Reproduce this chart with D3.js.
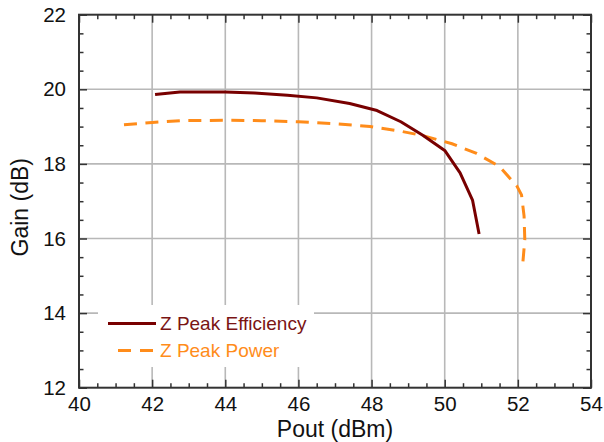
<!DOCTYPE html>
<html>
<head>
<meta charset="utf-8">
<script src="https://cdn.jsdelivr.net/npm/d3@7"></script>
<style>
  html, body { margin: 0; padding: 0; background: #fff; }
  svg { display: block; font-family: "Liberation Sans", Arial, sans-serif; }
</style>
</head>
<body>
<svg id="chart" width="604" height="442"></svg>
<script>
// ---- data ----
const xTickValues = [40, 42, 44, 46, 48, 50, 52, 54];
const yTickValues = [12, 14, 16, 18, 20, 22];
const xTitle = "Pout (dBm)";
const yTitle = "Gain (dB)";
const seriesNames = ["Z Peak Efficiency", "Z Peak Power"];

const effX = [42.08, 42.76, 44.0, 44.8, 45.7, 46.5, 47.4, 48.15, 48.8, 49.4, 50.0, 50.42, 50.76, 50.94];
const effY = [19.86, 19.93, 19.93, 19.90, 19.84, 19.77, 19.62, 19.43, 19.13, 18.77, 18.36, 17.76, 17.03, 16.12];

const powX = [41.23, 42.0, 42.8, 44.0, 45.0, 46.0, 46.95, 47.96, 48.78, 49.4, 50.2, 50.87, 51.5, 51.97, 52.1, 52.17, 52.19, 52.13];
const powY = [19.05, 19.11, 19.16, 19.17, 19.16, 19.13, 19.08, 19.0, 18.88, 18.76, 18.54, 18.28, 17.93, 17.41, 17.17, 16.6, 15.96, 15.28];

// ---- layout ----
const L = 79, R = 591, T = 14.7, B = 387.7;
const effColor = "#780000";
const effTextColor = "#7a1414";
const powColor = "#ff8c1a";
const gridColor = "#b8b8b8";
const axisColor = "#333333";

const svg = d3.select("#chart");
const x = d3.scaleLinear().domain([40, 54]).range([L, R]);
const y = d3.scaleLinear().domain([12, 22]).range([B, T]);

const xMinor = d3.range(40, 54.01, 0.5).filter(v => !xTickValues.includes(v));
const yMinor = d3.range(12, 22.01, 0.5).filter(v => !yTickValues.includes(v));

// grid
svg.append("g").selectAll("line")
  .data(xTickValues.filter(v => v > 40 && v < 54))
  .join("line")
  .attr("x1", d => x(d)).attr("x2", d => x(d))
  .attr("y1", T).attr("y2", B)
  .attr("stroke", gridColor).attr("stroke-width", 1.6);
svg.append("g").selectAll("line")
  .data(yTickValues.filter(v => v > 12 && v < 22))
  .join("line")
  .attr("y1", d => y(d)).attr("y2", d => y(d))
  .attr("x1", L).attr("x2", R)
  .attr("stroke", gridColor).attr("stroke-width", 1.6);

// legend background (hides grid)
svg.append("rect")
  .attr("x", 98).attr("y", 305).attr("width", 216).attr("height", 62)
  .attr("fill", "#fff");

// axes helpers
function styleAxis(g) {
  g.select(".domain").remove();
  g.selectAll(".tick line").attr("stroke", axisColor).attr("stroke-width", 1.5);
  g.selectAll("text")
    .attr("fill", "#111")
    .style("font-size", "20.5px")
    .style("font-family", '"Liberation Sans", Arial, sans-serif');
}

// bottom
svg.append("g").attr("transform", `translate(0,${B})`)
  .call(d3.axisBottom(x).tickValues(xTickValues).tickSizeInner(-8).tickSizeOuter(0).tickPadding(9).tickFormat(d3.format("d")))
  .call(styleAxis);
svg.append("g").attr("transform", `translate(0,${B})`)
  .call(d3.axisBottom(x).tickValues(xMinor).tickSizeInner(-4.5).tickSizeOuter(0).tickFormat(""))
  .call(styleAxis);
// top
svg.append("g").attr("transform", `translate(0,${T})`)
  .call(d3.axisTop(x).tickValues(xTickValues).tickSizeInner(-8).tickSizeOuter(0).tickFormat(""))
  .call(styleAxis);
svg.append("g").attr("transform", `translate(0,${T})`)
  .call(d3.axisTop(x).tickValues(xMinor).tickSizeInner(-4.5).tickSizeOuter(0).tickFormat(""))
  .call(styleAxis);
// left
svg.append("g").attr("transform", `translate(${L},0)`)
  .call(d3.axisLeft(y).tickValues(yTickValues).tickSizeInner(-8).tickSizeOuter(0).tickPadding(13).tickFormat(d3.format("d")))
  .call(styleAxis);
svg.append("g").attr("transform", `translate(${L},0)`)
  .call(d3.axisLeft(y).tickValues(yMinor).tickSizeInner(-4.5).tickSizeOuter(0).tickFormat(""))
  .call(styleAxis);
// right
svg.append("g").attr("transform", `translate(${R},0)`)
  .call(d3.axisRight(y).tickValues(yTickValues).tickSizeInner(-8).tickSizeOuter(0).tickFormat(""))
  .call(styleAxis);
svg.append("g").attr("transform", `translate(${R},0)`)
  .call(d3.axisRight(y).tickValues(yMinor).tickSizeInner(-4.5).tickSizeOuter(0).tickFormat(""))
  .call(styleAxis);

// frame
svg.append("rect")
  .attr("x", L).attr("y", T).attr("width", R - L).attr("height", B - T)
  .attr("fill", "none").attr("stroke", axisColor).attr("stroke-width", 2);

// lines
const line = d3.line().x(d => x(d[0])).y(d => y(d[1]));
const effData = effX.map((v, i) => [v, effY[i]]);
const powData = powX.map((v, i) => [v, powY[i]]);

svg.append("path").datum(powData)
  .attr("d", line).attr("fill", "none")
  .attr("stroke", powColor).attr("stroke-width", 3)
  .attr("stroke-dasharray", "13,8.5");
svg.append("path").datum(effData)
  .attr("d", line).attr("fill", "none")
  .attr("stroke", effColor).attr("stroke-width", 3)
  .attr("stroke-linejoin", "round");

// legend
svg.append("line").attr("x1", 108).attr("x2", 156).attr("y1", 323.5).attr("y2", 323.5)
  .attr("stroke", effColor).attr("stroke-width", 3);
svg.append("line").attr("x1", 118).attr("x2", 155).attr("y1", 350.5).attr("y2", 350.5)
  .attr("stroke", powColor).attr("stroke-width", 3).attr("stroke-dasharray", "13,9");
svg.append("text").attr("x", 160).attr("y", 330).text(seriesNames[0])
  .attr("fill", effTextColor).style("font-size", "19px");
svg.append("text").attr("x", 160).attr("y", 357).text(seriesNames[1])
  .attr("fill", powColor).style("font-size", "19px");

// axis titles
svg.append("text").attr("x", (L + R) / 2).attr("y", 437).attr("text-anchor", "middle")
  .attr("fill", "#111").style("font-size", "23px").text(xTitle);
svg.append("text").attr("transform", `translate(28,${(T + B) / 2 + 6}) rotate(-90)`)
  .attr("text-anchor", "middle").attr("fill", "#111").style("font-size", "23px").text(yTitle);
</script>
</body>
</html>
